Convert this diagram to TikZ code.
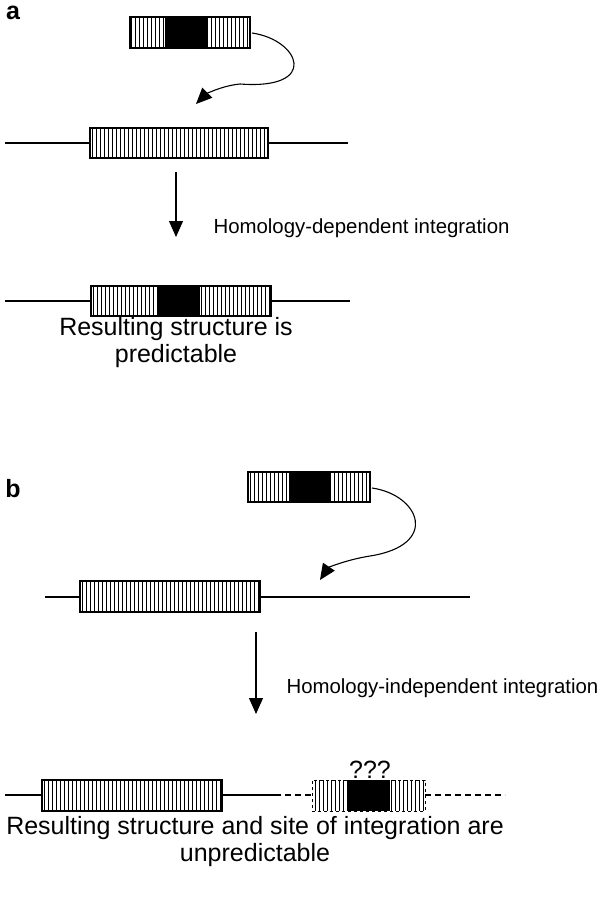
\documentclass[tikz,border=0pt]{standalone}
\usepackage{fontspec}
\setmainfont{Liberation Sans}
\usetikzlibrary{arrows.meta}
\begin{document}
\begin{tikzpicture}[x=1pt,y=-1pt,
  dna/.style={line width=1.1pt},
  box/.style={draw,line width=1.1pt},
  arr/.style={line width=1.1pt,-{Triangle[length=16pt,width=14pt]}},
  lab/.style={font=\fontsize{20.4}{24}\selectfont,anchor=west},
  res/.style={font=\fontsize{25}{27}\selectfont,align=center}]
\useasboundingbox (0,0) rectangle (600,907);
\node[font=\fontsize{25}{25}\selectfont\bfseries] (la) at (13,13) {a};
% insert a
\foreach \x in {131,135,...,247} \draw[line width=0.8pt] (\x,17) -- (\x,48);
\fill (165,17) rectangle (207,48);
\node[box,minimum width=120pt,minimum height=31pt,inner sep=0] (ia) at (190,32.5) {};
\coordinate (ca) at (196,104);
\draw[arr] (252,33) .. controls (300,40) and (320,90) .. (240,84) .. controls (220,86) and (205,95) .. (ca);
% line a
\draw[dna] (5,143) -- (348,143);
\fill[white] (90,128) rectangle (268,158);
\foreach \x in {92,96,...,266} \draw[line width=0.8pt] (\x,128) -- (\x,158);
\node[box,minimum width=178pt,minimum height=30pt,inner sep=0] (ba) at (179,143) {};
\coordinate (pa) at (176,172);
\coordinate (qa) at (176,237);
\draw[arr] (pa) -- (qa);
\node[lab] (ha) at (210,228) {Homology-dependent integration};
% result a
\draw[dna] (5,301) -- (350,301);
\fill[white] (91,286) rectangle (271,316);
\foreach \x in {93,97,...,269} \draw[line width=0.8pt] (\x,286) -- (\x,316);
\fill (158,286) rectangle (200,316);
\node[box,minimum width=180pt,minimum height=30pt,inner sep=0] (ra) at (181,301) {};
\node[res] (ta) at (176,343) {Resulting structure is\\predictable};
% b
\node[font=\fontsize{25}{25}\selectfont\bfseries] (lb) at (13,489) {b};
\foreach \x in {250,254,...,368} \draw[line width=0.8pt] (\x,472) -- (\x,502);
\fill (289,472) rectangle (330,502);
\node[box,minimum width=122pt,minimum height=30pt,inner sep=0] (ib) at (309,487) {};
\coordinate (cb) at (320,580);
\draw[arr] (372,488) .. controls (420,495) and (440,545) .. (370,556) .. controls (345,560) and (328,568) .. (cb);
\draw[dna] (45,597) -- (470,597);
\fill[white] (80,581) rectangle (260,612);
\foreach \x in {82,86,...,258} \draw[line width=0.8pt] (\x,581) -- (\x,612);
\node[box,minimum width=180pt,minimum height=31pt,inner sep=0] (bb) at (170,596.5) {};
\coordinate (pb) at (256,632);
\coordinate (qb) at (256,714);
\draw[arr] (pb) -- (qb);
\node[lab] (hb) at (283,688) {Homology-independent integration};
% result b
\draw[dna] (5,795) -- (42,795);
\draw[dna] (222,795) -- (275,795);
\draw[dna,dash pattern=on 6pt off 4pt] (275,795) -- (312,795);
\draw[dna,dash pattern=on 6pt off 4pt] (425,795) -- (505,795);
\foreach \x in {44,48,...,220} \draw[line width=0.8pt] (\x,780) -- (\x,811);
\node[box,minimum width=180pt,minimum height=31pt,inner sep=0] (rb) at (132,795.5) {};
\foreach \x in {315,319,...,424} \draw[line width=0.8pt] (\x,780) -- (\x,811);
\fill (348,780) rectangle (390,811);
\node[draw,dashed,line width=1pt,minimum width=113pt,minimum height=31pt,inner sep=0] (qq) at (368.5,795.5) {};
\node[font=\fontsize{25}{25}\selectfont] (qm) at (370,770) {???};
\node[res] (tb) at (255,842) {Resulting structure and site of integration are\\unpredictable};
\end{tikzpicture}
\end{document}
